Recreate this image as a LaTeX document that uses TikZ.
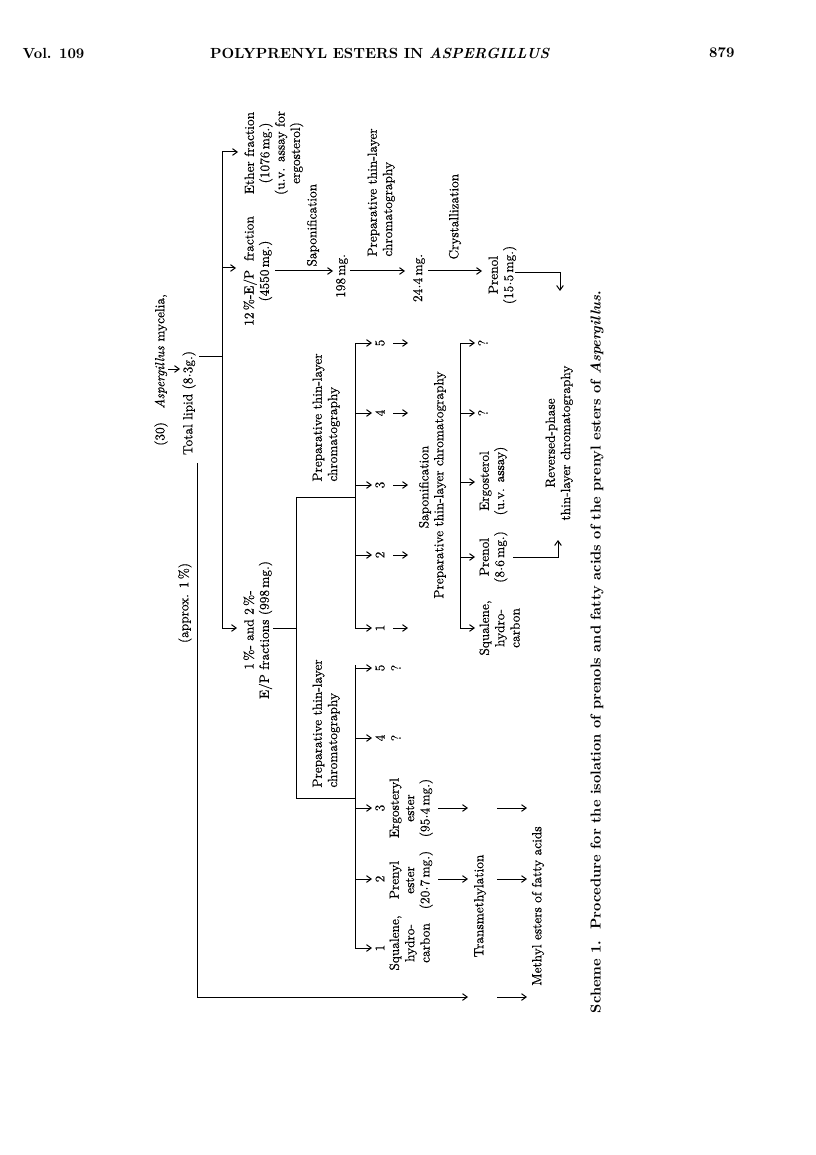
\documentclass[tikz,border=0pt]{standalone}
\usepackage{fontspec}
\setmainfont{Latin Modern Roman}[UprightFeatures={FakeBold=0.4},ItalicFeatures={FakeBold=0.4}]
\usetikzlibrary{arrows.meta}
\newcommand\md{\kern0.02em\raisebox{0.33ex}{.}\kern0.02em}
\begin{document}
\begin{tikzpicture}[x=0.75pt,y=-0.75pt, line width=0.75pt,
  lbl/.style={rotate=90, inner sep=0pt, font=\fontsize{10}{11.5}\selectfont, align=center},
  lbll/.style={rotate=90, inner sep=0pt, font=\fontsize{10}{11.5}\selectfont, align=left},
  hdr/.style={inner sep=0pt, font=\fontsize{11}{13}\selectfont\bfseries},
  arr/.style={-{Straight Barb[length=3.5pt,width=5pt]}}]
\useasboundingbox (0,0) rectangle (816,1155);
% header
\node[hdr, anchor=west] (hvol) at (22,53) {Vol. 109};
\node[hdr] (htitle) at (380,53) {POLYPRENYL ESTERS IN \textit{ASPERGILLUS}};
\node[hdr, anchor=east] (hpage) at (735,53) {879};
% top
\node[lbl] (myc) at (161,370) {(30)\quad\textit{Aspergillus} mycelia,};
\coordinate (mA) at (168,369); \coordinate (mB) at (180,369);
\draw[arr] (mA) -- (mB);
\node[lbl] (tl) at (189,403) {Total lipid (8\md3g.)};
\node[lbl] (approx) at (185,603) {(approx. 1\,\%)};
% total lipid bus
\coordinate (tlS) at (199,356); \coordinate (bJ) at (222,356);
\coordinate (bT) at (222,152); \coordinate (bM) at (222,268); \coordinate (bB) at (222,628);
\coordinate (eA) at (238,152); \coordinate (gA) at (236,268); \coordinate (fA) at (237,628);
\draw (tlS) -- (bJ);
\draw[arr] (bB) -- (bT) -- (eA);
\draw[arr] (bM) -- (gA);
\draw[arr] (bB) -- (fA);
% approx line to methyl esters
\coordinate (tlW) at (197,463); \coordinate (cA) at (197,997); \coordinate (cB) at (468,997);
\coordinate (cC) at (497,997); \coordinate (cD) at (527,997);
\draw[arr] (tlW) -- (cA) -- (cB);
\draw[arr] (cC) -- (cD);
% ether
\node[lbl, anchor=north] (ether) at (244,153) {Ether fraction\\(1076\,mg.)\\(u.v. assay for\\ergosterol)};
% 12% branch
\node[lbl, anchor=north] (f12) at (243,271) {12\,\%-E/P\ \ fraction\\(4550\,mg.)};
\coordinate (p1) at (275,271); \coordinate (p2) at (333,271);
\draw[arr] (p1) -- (p2);
\node[lbl, anchor=west] (sap1) at (313,267) {Saponification};
\node[lbl] (mg198) at (342,276) {198\,mg.};
\coordinate (p3) at (350,271); \coordinate (p4) at (405,271);
\draw[arr] (p3) -- (p4);
\node[lbll, anchor=north west] (ptlc1) at (367,257) {Preparative thin-layer\\chromatography};
\node[lbl] (mg244) at (419,278) {24\md4\,mg.};
\coordinate (p5) at (428,271); \coordinate (p6) at (482,271);
\draw[arr] (p5) -- (p6);
\node[lbl, anchor=west] (cryst) at (455,260) {Crystallization};
\node[lbl, anchor=north] (pren155) at (488,275) {Prenol\\(15\md5\,mg.)};
\coordinate (p7) at (515,273); \coordinate (p8) at (560,273); \coordinate (p9) at (560,291);
\draw[arr] (p7) -- (p8) -- (p9);
\node[lbl, anchor=north] (rev) at (545,443) {Reversed-phase\\thin-layer chromatography};
% 1% and 2% branch
\node[lbl, anchor=north] (f1) at (243,630) {1\,\%- and 2\,\%-\\E/P fractions (998\,mg.)};
\coordinate (q1) at (273,628); \coordinate (q2) at (296,628);
\coordinate (q3) at (296,497); \coordinate (q4) at (296,798);
\coordinate (q5) at (355,497); \coordinate (q6) at (355,798);
\draw (q1) -- (q2);
\draw (q5) -- (q3) -- (q4) -- (q6);
% upper TLC (A)
\coordinate (aT) at (355,343); \coordinate (aB) at (355,628);
\draw (aT) -- (aB);
\node[lbll, anchor=north west] (tlcA) at (312,482) {Preparative thin-layer\\chromatography};
\foreach \yy/\nn [count=\i] in {628/1,555/2,485/3,413/4,343/5}{
  \coordinate (aS\i) at (355,\yy); \coordinate (aE\i) at (372,\yy);
  \draw[arr] (aS\i) -- (aE\i);
  \node[lbl] (nA\i) at (380,\yy) {\nn};
  \coordinate (aF\i) at (393,\yy); \coordinate (aG\i) at (408,\yy);
  \draw[arr] (aF\i) -- (aG\i);
}
\node[lbl] (sap2) at (425,487) {Saponification};
\node[lbl] (ptlc2) at (440,485) {Preparative thin-layer chromatography};
% bus after saponification
\coordinate (sT) at (460,343); \coordinate (sB) at (460,628);
\draw (sT) -- (sB);
\foreach \yy [count=\i] in {628,557,482,413,343}{
  \coordinate (sS\i) at (460,\yy); \coordinate (sE\i) at (475,\yy);
  \draw[arr] (sS\i) -- (sE\i);
}
\node[lbl, anchor=north] (sq2) at (479,628) {Squalene,\\hydro-\\carbon};
\node[lbl, anchor=north] (pren86) at (479,557) {Prenol\\(8\md6\,mg.)};
\node[lbl, anchor=north] (ergo) at (479,481) {Ergosterol\\(u.v. assay)};
\node[lbl] (qa4) at (483,413) {?};
\node[lbl] (qa5) at (483,343) {?};
\coordinate (r1) at (513,557); \coordinate (r2) at (558,557); \coordinate (r3) at (558,540);
\draw[arr] (r1) -- (r2) -- (r3);
% lower TLC (B)
\coordinate (bbT) at (355,665); \coordinate (bbB) at (355,948);
\draw (bbT) -- (bbB);
\node[lbll, anchor=north west] (tlcB) at (312,788) {Preparative thin-layer\\chromatography};
\foreach \yy/\nn [count=\i] in {948/1,879/2,808/3,738/4,668/5}{
  \coordinate (bS\i) at (355,\yy); \coordinate (bE\i) at (372,\yy);
  \draw[arr] (bS\i) -- (bE\i);
  \node[lbl] (nB\i) at (380,\yy) {\nn};
}
\node[lbl] (qb4) at (396,738) {?};
\node[lbl] (qb5) at (396,668) {?};
\node[lbl, anchor=north] (sq1) at (389,943) {Squalene,\\hydro-\\carbon};
\node[lbl, anchor=north] (pe) at (389,880) {Prenyl\\ester\\(20\md7\,mg.)};
\node[lbl, anchor=north] (ee) at (389,808) {Ergosteryl\\ester\\(95\md4\,mg.)};
\coordinate (t1) at (438,879); \coordinate (t2) at (468,879);
\coordinate (t3) at (438,808); \coordinate (t4) at (468,808);
\coordinate (t5) at (497,879); \coordinate (t6) at (527,879);
\coordinate (t7) at (497,808); \coordinate (t8) at (527,808);
\draw[arr] (t1) -- (t2); \draw[arr] (t3) -- (t4);
\draw[arr] (t5) -- (t6); \draw[arr] (t7) -- (t8);
\node[lbl] (trans) at (480,906) {Transmethylation};
\node[lbl] (methyl) at (538,906) {Methyl esters of fatty acids};
% caption
\node[lbl, font=\fontsize{10.8}{12}\selectfont\bfseries] (caption) at (597,652) {Scheme 1.\ \ Procedure for the isolation of prenols and fatty acids of the prenyl esters of \textit{Aspergillus}.};
\end{tikzpicture}
\end{document}
